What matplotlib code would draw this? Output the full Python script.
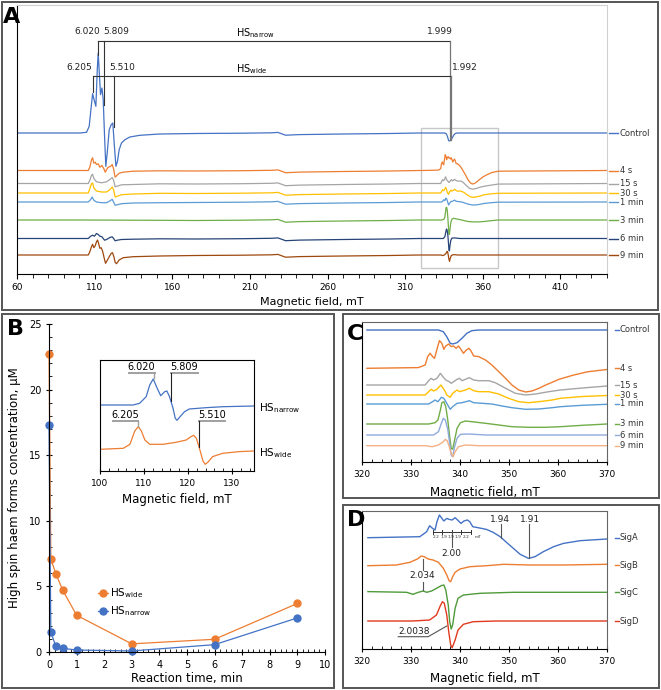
import numpy as np
import matplotlib.pyplot as plt
import matplotlib.transforms as mtransforms
from matplotlib.patches import Rectangle
from matplotlib.ticker import MultipleLocator

plt.rcParams['font.family'] = ['DejaVu Sans']
plt.rcParams['mathtext.default'] = 'regular'

# ---------------- panel B: kinetics ----------------
times = [0, 4 / 60, 0.25, 0.5, 1, 3, 6, 9]
hs_wide = [22.7, 7.1, 5.95, 4.7, 2.8, 0.62, 0.97, 3.7]
hs_narrow = [17.3, 1.5, 0.43, 0.28, 0.15, 0.08, 0.56, 2.6]

# inset: low-field spectra (mT, intensity in px)
ins_narrow_f = [100, 107.5, 109, 110.5, 111.3, 112.1, 113, 113.8, 114.7, 115.2, 115.8, 116.6, 117.1,
                117.5, 118.2, 119.2, 120.3, 124, 127.9, 135]
ins_narrow_i = [0, 0, 1.7, 8.3, 20, 26, 16.7, 9.3, 13.3, 14, 8.3, -3.3, -13.3,
                -15.3, -11.7, -6.7, -4, -2.7, -1.7, -1]
ins_wide_f = [100, 105.3, 106.8, 107.9, 108.7, 109.4, 110.2, 111.3, 114.3, 117.3, 119.6, 120.7, 121.3,
              121.9, 122.6, 123.4, 123.9, 124.5, 125.6, 127.9, 131.7, 135]
ins_wide_i = [0, 1, 5, 18.3, 22.7, 18.3, 9.3, 5, 5, 7, 9.3, 12.7, 14,
              11, 1, -11.7, -15, -13, -7.3, -4, -2.3, -1.7]

# ---------------- panel C: high-field spectra (mT, intensity in px) ----------------
trace_labels = ['Control', '4 s', '15 s', '30 s', '1 min', '3 min', '6 min', '9 min']

c_ctrl_f = [321, 335.6, 336.6, 337.3, 338.0, 338.5, 339.4, 340.4, 341.4, 342.4, 343.8, 370]
c_ctrl_i = [0, 0, -1.7, -6.7, -13.3, -14, -12.7, -8.3, -3.3, -0.7, 0, 0]
c_4s_f = [321, 331.5, 332.9, 333.4, 333.9, 334.4, 334.8, 335.3, 335.8, 336.3, 336.7, 337.1, 337.7,
          338.2, 338.7, 339.2, 339.7, 340.2, 340.7, 341.3, 341.8, 342.2, 342.8, 343.8, 345.2, 346.5,
          347.9, 349.3, 350.6, 352.0, 353.4, 354.7, 356.1, 357.5, 358.8, 360.2, 363, 366, 370]
c_4s_i = [0, 0.7, 3.3, 11.7, 15, 11.7, 10, 19, 27.7, 25, 19, 22.3, 24.3,
          21.7, 22.3, 20, 22.3, 19, 15, 18.3, 20, 17.7, 12.3, 11.7, 8.3, 3.3,
          -3.3, -10, -16.7, -21.7, -23.7, -22.7, -20, -16.7, -14, -11, -7, -3.5, -1.2]
c_15s_f = [321, 332.9, 333.6, 334.1, 334.6, 335.3, 336.0, 336.5, 337.1, 337.8, 338.2, 338.7, 339.4,
           339.9, 340.4, 341.1, 341.9, 342.8, 343.8, 345.9, 347.2, 349.3, 351.3, 353.4, 355.4, 358.1,
           360.5, 365, 370]
c_15s_i = [0, 0, 4.3, 6.7, 5, 6.7, 11.7, 8.3, 5, 3.3, 1.7, 3.3, 5.7,
           6.7, 4.3, 5.7, 7.3, 5, 4.3, 4.3, 2.3, -3.3, -8.3, -10, -9, -6.7,
           -5, -3, -1]
c_30s_f = [321, 332.9, 333.6, 334.1, 334.6, 335.3, 336.1, 336.8, 337.3, 338.0, 338.5, 339.4, 339.9,
           340.4, 341.1, 341.9, 342.8, 343.8, 345.9, 347.9, 349.9, 352.0, 354.0, 356.8, 358.8, 360.5,
           365, 370]
c_30s_i = [0, 0, 3.3, 5.7, 4, 5.7, 10, 5, 0, -2.3, 1.7, 5, 3.3,
           4, 5, 6.7, 4.3, 3.3, 3.3, 1, -3.3, -6.7, -7.7, -6.3, -5, -3.3,
           -1.5, -0.5]
c_1min_f = [321, 333.6, 334.4, 334.9, 335.5, 336.2, 336.7, 337.3, 338.0, 338.5, 339.4, 340.4, 341.2,
            341.9, 342.8, 344.5, 346.5, 348.6, 350.6, 353.4, 356.1, 358.8, 360.5, 365, 370]
c_1min_i = [0, 0, 2.3, 4, 2.3, 6.7, 5.7, 0.7, -5.3, -2.7, 0.7, 1.3, 2.3,
            3.3, 1.3, 0.7, 0, -2, -3.7, -5.3, -5, -3.7, -2.7, -1.3, -0.3]
c_3min_f = [321, 333.6, 334.9, 335.5, 336.0, 336.3, 336.7, 337.1, 337.5, 337.9, 338.2, 338.5, 338.9,
            339.4, 340.1, 341.1, 342.4, 345.2, 347.9, 350.6, 354.0, 357.5, 360.5, 365, 370]
c_3min_i = [0, 0, 1.3, 4, 14, 21.3, 22.3, 17.3, 4, -12.7, -24.3, -25.3, -16,
            -4.3, 1.3, 3, 2.3, 0.7, -1, -2.7, -3.3, -3.3, -2.7, -1.3, 0]
c_6min_f = [321, 334.6, 335.6, 336.2, 336.6, 337.0, 337.5, 337.9, 338.2, 338.5, 338.9, 339.4, 340.1,
            341.8, 345.2, 370]
c_6min_i = [0, 0, 3.3, 11.7, 16.7, 15, 5.7, -8.3, -20, -21.7, -11.7, -3.3, 0.7,
            1, 0, 0]
c_9min_f = [321, 333.0, 334.3, 335.6, 336.6, 337.0, 337.4, 337.8, 338.2, 338.6, 339.0, 339.7, 341.1,
            343.8, 370]
c_9min_i = [0, 0, -1, 0.7, 4, 6.3, 5, -1, -7.7, -11, -6, -1, 0.7,
            0, 0]

# ---------------- panel A: low-field part of the same spectra ----------------
a_ctrl_f = [100.5, 104.8, 106.5, 107.6, 108.7, 109.9, 110.8, 111.7, 112.3, 113.0, 113.8, 114.7, 115.5,
            116.4, 117.2, 118.1, 119.4, 120.7, 121.7, 122.6, 123.7, 124.7, 125.8, 127.3, 129.5, 132.7,
            139.1, 152.0]
a_ctrl_i = [0, 0.7, 6.7, 23.3, 39.3, 31.7, 26.7, 63.3, 80, 60, 38.3, 45, 34,
            -3.3, -33.3, -20, 3.3, 8.3, 10, -10, -33.3, -28.3, -16.7, -10, -6.7, -4,
            -2.3, -1]
a_4s_f = [100.5, 105.9, 106.9, 108.0, 108.7, 109.5, 110.4, 111.2, 112.3, 113.4, 114.7, 116.0, 116.8,
          117.7, 118.7, 120.2, 121.3, 122.2, 123.2, 124.3, 125.8, 128.4, 134.8, 152.0]
a_4s_i = [0, 0, 3.3, 10.7, 12.7, 7.3, 8.3, 6, 6.7, 3.3, 5, 1.7, -1.7,
          0.7, 3.3, 4, 6, 1.7, -6.7, -5, -2.7, -1.7, -0.7, -0.3]
a_15s_f = [100.5, 105.9, 106.9, 108.0, 108.7, 109.5, 111.2, 114.4, 117.7, 119.8, 121.3, 122.2, 123.2,
           124.5, 127.3, 134.8, 152.0]
a_15s_i = [0, 0, 3.3, 8.3, 9.3, 5, 1.7, 0.7, 1.7, 4, 6, 3.3, -3.3,
           -2.7, -1.3, -1, -0.3]
a_30s_f = [100.5, 105.9, 106.9, 108.0, 108.7, 109.5, 111.2, 114.4, 117.7, 119.8, 121.3, 122.2, 123.2,
           124.5, 127.3, 134.8, 152.0]
a_30s_i = [0, 0, 4.3, 9.3, 10, 5, 2, 1, 1, 3.3, 6, 3.3, -4,
           -3.3, -1.7, -1, -0.3]
a_1min_f = [100.5, 105.9, 107.4, 108.4, 109.5, 111.2, 114.4, 117.7, 119.8, 121.3, 122.2, 123.2, 124.7,
            127.3, 134.8, 152.0]
a_1min_i = [0, 0, 2.3, 5, 1.7, 0, -0.7, -0.7, 1, 2.7, 0, -3.3, -2.7,
            -1.7, -1, -0.7]
a_3min_f = [100.5, 152.0]
a_3min_i = [0, -0.3]
a_6min_f = [100.5, 105.9, 107.4, 108.7, 109.9, 111.2, 112.3, 113.4, 114.7, 116.4, 117.7, 119.8, 121.3,
            122.2, 123.2, 124.5, 127.3, 134.8, 152.0]
a_6min_i = [0, 0, 2.3, 3.3, 2.3, 5, 4, 2.3, 1.7, -1.7, -1, 1, 1.7,
            0, -2.3, -1.7, -1, -0.7, -0.3]
a_9min_f = [100.5, 105.9, 106.9, 108.0, 108.7, 109.5, 110.4, 111.2, 111.9, 112.5, 113.4, 114.2, 115.1,
            116.2, 117.0, 117.9, 119.4, 120.7, 121.5, 122.4, 123.2, 124.1, 125.8, 128.4, 134.8, 152.0]
a_9min_i = [0, 0, 3.3, 8.3, 10.7, 7.3, 9.3, 13.3, 15, 11.7, 6.7, 7.3, 4,
            -3.3, -8.3, -6, -1.7, 1.7, 2.3, -1.7, -7.3, -8.7, -5, -2.7, -1.7, -1]
# small baseline artefact between the two regions
mid_f = [175, 205, 224, 228, 233, 242, 270, 300, 319]
mid_i = [-0.5, -0.2, 0.2, 0.6, -2.2, -1.6, -1.0, -0.5, 0]

# ---------------- panel D: signal components ----------------
sig_labels = ['SigA', 'SigB', 'SigC', 'SigD']
d_a_f = [321.2, 331.8, 333.2, 333.8, 334.4, 334.9, 335.3, 335.8, 336.2, 336.7, 337.3, 337.8, 338.4,
         339.0, 339.5, 340.2, 340.8, 341.5, 342.0, 342.6, 343.7, 345.4, 346.8, 348.2, 349.5, 350.9,
         352.3, 354.0, 355.3, 357.0, 359.1, 361.1, 364.5, 370]
d_a_i = [0, 1, 6, 12, 9.3, 7.7, 16, 22.7, 20, 16.7, 19.3, 18.3, 17.7,
         20, 17.7, 14.3, 16.7, 17.7, 16, 11, 10, 8.3, 5.3, 1, -4.7, -10.7,
         -16.7, -20.7, -19, -14, -9, -5.7, -3, -1.3]
d_b_f = [321.2, 327.0, 329.8, 331.3, 332.1, 332.7, 333.5, 334.5, 335.6, 336.6, 337.3, 337.8, 338.1,
         338.5, 339.0, 340.0, 342.0, 345.4, 348.9, 354.3, 361.1, 370]
d_b_i = [-0.7, 0, 2.7, 6, 9, 8.3, 6, 5, 2.7, -3.3, -10, -16, -16.7,
         -11.7, -7.3, -4, -1.7, -0.7, 0.7, 0, 0, 0.7]
d_c_f = [321.2, 329.1, 330.4, 331.5, 332.5, 333.2, 334.2, 335.2, 336.2, 336.7, 337.1, 337.6, 337.9,
         338.2, 338.5, 339.0, 339.6, 340.7, 344.1, 350.9, 370]
d_c_i = [0.7, 0, -2, 0, 1.3, 0, 1.3, 4, 6.7, 7.3, 2.3, -12.7, -29.3,
         -36.7, -32.7, -16, -6, -2.7, -1, 0, 0]
d_d_f = [321.2, 330.4, 333.8, 335.2, 335.9, 336.4, 336.8, 337.3, 337.7, 338.1, 338.4, 339.0, 339.6,
         340.7, 342.7, 347.5, 370]
d_d_i = [0, 0, 1, 6, 14.3, 19.3, 17.7, 6, -10.7, -24, -26.7, -19, -9,
         -3.3, -0.7, 0, 0]
# hyperfine spacings written under SigA (mT)
spacing_pos = [335.1, 336.7, 338.1, 339.6, 341.3]
spacing_txt = ['2.2', '1.9', '1.9', '1.9', '2.2']

# ---------------- styles / stacking ----------------
a_colors = ['#4472C4', '#ED7D31', '#A5A5A5', '#FFC000', '#5B9BD5', '#70AD47', '#264478', '#9E480E']
c_colors = ['#4472C4', '#ED7D31', '#A5A5A5', '#FFC000', '#5B9BD5', '#70AD47', '#8FAADC', '#F4B183']
d_colors = ['#4472C4', '#ED7D31', '#4F9A3A', '#E03A1E']
a_offsets = [141, 103.5, 90.5, 81, 72, 54, 35.5, 19]
c_offsets = [132, 93.7, 77, 67, 58, 38, 27, 16.3]
d_offsets = [111.3, 84, 56.7, 28]
a_gain = 0.57  # high-field part is drawn smaller in panel A than in C

low_parts = [(a_ctrl_f, a_ctrl_i), (a_4s_f, a_4s_i), (a_15s_f, a_15s_i), (a_30s_f, a_30s_i),
             (a_1min_f, a_1min_i), (a_3min_f, a_3min_i), (a_6min_f, a_6min_i), (a_9min_f, a_9min_i)]
high_parts = [(c_ctrl_f, c_ctrl_i), (c_4s_f, c_4s_i), (c_15s_f, c_15s_i), (c_30s_f, c_30s_i),
              (c_1min_f, c_1min_i), (c_3min_f, c_3min_i), (c_6min_f, c_6min_i), (c_9min_f, c_9min_i)]
sig_parts = [(d_a_f, d_a_i), (d_b_f, d_b_i), (d_c_f, d_c_i), (d_d_f, d_d_i)]

W, H = 661, 690
fig = plt.figure(figsize=(W / 100, H / 100), dpi=100)


def box(x0, y0, x1, y1):
    # pixel box measured from the top-left -> figure rect
    return [x0 / W, 1 - y1 / H, (x1 - x0) / W, (y1 - y0) / H]


def frame(x0, y0, x1, y1):
    r = box(x0, y0, x1, y1)
    fig.add_artist(Rectangle((r[0], r[1]), r[2], r[3], transform=fig.transFigure,
                             fill=False, ec='#555555', lw=1.4))


def side_labels(ax, offsets, labels, colors, x0):
    tr = mtransforms.blended_transform_factory(ax.transAxes, ax.transData)
    for off, lab, col in zip(offsets, labels, colors):
        ax.plot([x0, x0 + 0.016], [off, off], color=col, lw=1, transform=tr, clip_on=False)
        ax.text(x0 + 0.019, off, lab, transform=tr, fontsize=6, va='center', color='#333333')


def field_axis(ax, x_label_y):
    ax.set_xlim(320, 370)
    ax.set_xticks(range(320, 371, 10))
    ax.xaxis.set_minor_locator(MultipleLocator(2))
    ax.set_yticks([])
    ax.tick_params(axis='x', which='major', direction='inout', length=5, labelsize=6.5, pad=3)
    ax.tick_params(axis='x', which='minor', direction='in', length=2.5)
    for s in ['top', 'right']:
        ax.spines[s].set_color('#666666')
    ax.set_xlabel('Magnetic field, mT', fontsize=8.5)
    ax.xaxis.set_label_coords(0.5, x_label_y)


frame(2, 2, 658, 310)
frame(2, 314, 334, 688)
frame(343, 314, 659, 498)
frame(343, 505, 659, 688)

# ---------------- A ----------------
ax_a = fig.add_axes(box(17, 5, 607, 274))
for k in range(len(trace_labels)):
    lf, li = low_parts[k]
    hf, hi = high_parts[k]
    f = np.concatenate([[60], lf, mid_f, hf, [440]])
    y = np.concatenate([[0], li, mid_i, np.array(hi) * a_gain, [0]])
    ax_a.plot(f, y + a_offsets[k], color=a_colors[k], lw=0.9)
ax_a.set_xlim(60, 440)
ax_a.set_ylim(0, 269)
ax_a.set_yticks([])
ax_a.set_xticks(range(60, 411, 50))
ax_a.xaxis.set_minor_locator(MultipleLocator(10))
ax_a.tick_params(axis='x', which='major', direction='out', length=3.5, labelsize=6.5, pad=3)
ax_a.tick_params(axis='x', which='minor', direction='out', length=3)
ax_a.spines['top'].set_color('#D0D0D0')
ax_a.spines['right'].set_color('#D0D0D0')
ax_a.set_xlabel('Magnetic field, mT', fontsize=8)
ax_a.xaxis.set_label_coords(0.5, -0.085)
ax_a.add_patch(Rectangle((320, 6), 50, 140, fill=False, ec='#C8C8C8', lw=1))
side_labels(ax_a, a_offsets, trace_labels, a_colors, 1.003)

lc = '#333333'
ax_a.plot([112.1, 338.6], [233.3, 233.3], color=lc, lw=0.8)
ax_a.plot([112.1, 112.1], [233.3, 219], color=lc, lw=0.8)
ax_a.plot([116.2, 116.2], [233.3, 169], color=lc, lw=0.8)
ax_a.plot([338.6, 338.6], [233.3, 134], color='#777777', lw=0.9)
ax_a.plot([108.7, 339.4], [198, 198], color=lc, lw=0.8)
ax_a.plot([108.7, 108.7], [198, 182], color=lc, lw=0.8)
ax_a.plot([122.4, 122.4], [198, 147], color=lc, lw=0.8)
ax_a.plot([339.4, 339.4], [198, 134], color='#777777', lw=0.9)
akw = dict(fontsize=6.5, va='center', color='#222222')
ax_a.text(113.3, 242.3, '6.020', ha='right', **akw)
ax_a.text(115.3, 242.3, '5.809', ha='left', **akw)
ax_a.text(108.7, 206.3, '6.205', ha='right', **akw)
ax_a.text(119.4, 206.3, '5.510', ha='left', **akw)
ax_a.text(340.6, 242.3, '1.999', ha='right', **akw)
ax_a.text(340.3, 206.3, '1.992', ha='left', **akw)
ax_a.text(201, 241, r'HS$_{narrow}$', ha='left', fontsize=7, va='center')
ax_a.text(201, 205, r'HS$_{wide}$', ha='left', fontsize=7, va='center')

# ---------------- B ----------------
ax_b = fig.add_axes(box(49, 324, 325, 652))
ax_b.plot(times, hs_wide, '-o', color='#ED7D31', ms=5, lw=0.9, clip_on=False)
ax_b.plot(times, hs_narrow, '-o', color='#4472C4', ms=5, lw=0.9, clip_on=False)
ax_b.set_xlim(0, 10)
ax_b.set_ylim(0, 25)
ax_b.set_xticks(range(0, 11))
ax_b.set_yticks(range(0, 26, 5))
ax_b.xaxis.set_minor_locator(MultipleLocator(0.2))
ax_b.yaxis.set_minor_locator(MultipleLocator(1))
ax_b.tick_params(which='major', direction='inout', length=5, labelsize=7, pad=3)
ax_b.tick_params(which='minor', direction='in', length=2.5)
ax_b.spines['top'].set_visible(False)
ax_b.spines['right'].set_visible(False)
ax_b.set_xlabel('Reaction time, min', fontsize=8.5)
ax_b.xaxis.set_label_coords(0.5, -0.06)
ax_b.set_ylabel('High spin haem forms concentration, \u00b5M', fontsize=8.5)
ax_b.yaxis.set_label_coords(-0.1, 0.5)
for yy, col, lab in [(0.18, '#ED7D31', r'HS$_{wide}$'), (0.125, '#4472C4', r'HS$_{narrow}$')]:
    ax_b.plot([0.178, 0.214], [yy, yy], color=col, lw=0.9, transform=ax_b.transAxes)
    ax_b.plot([0.196], [yy], 'o', color=col, ms=5, transform=ax_b.transAxes)
    ax_b.text(0.222, yy, lab, transform=ax_b.transAxes, fontsize=7.5, va='center')

ax_in = fig.add_axes(box(100, 360, 254, 471))
ax_in.plot(ins_narrow_f, np.array(ins_narrow_i) + 66, color='#4472C4', lw=0.9)
ax_in.plot(ins_wide_f, np.array(ins_wide_i) + 21.7, color='#ED7D31', lw=0.9)
ax_in.set_xlim(100, 135)
ax_in.set_ylim(0, 111)
ax_in.set_yticks([])
ax_in.set_xticks([100, 110, 120, 130])
ax_in.xaxis.set_minor_locator(MultipleLocator(2))
ax_in.tick_params(axis='x', which='major', direction='inout', length=5, labelsize=6.5, pad=3)
ax_in.tick_params(axis='x', which='minor', direction='in', length=2.5)
ax_in.set_xlabel('Magnetic field, mT', fontsize=8.5)
ax_in.xaxis.set_label_coords(0.5, -0.2)
gray = '#A0A0A0'
ikw = dict(fontsize=7, ha='center', va='center')
ax_in.plot([106.6, 112.4], [97.7, 97.7], color=gray, lw=1.4)
ax_in.plot([112.2, 112.2], [97.7, 93], color=gray, lw=1)
ax_in.text(109.4, 103.5, '6.020', **ikw)
ax_in.plot([116.2, 122.2], [97.7, 97.7], color=gray, lw=1.4)
ax_in.plot([116.2, 116.2], [97.7, 70], color='#222222', lw=0.8)
ax_in.text(119.2, 103.5, '5.809', **ikw)
ax_in.plot([102.9, 108.7], [50.3, 50.3], color=gray, lw=1.4)
ax_in.plot([108.7, 108.7], [50.3, 45], color=gray, lw=1)
ax_in.text(105.8, 56, '6.205', **ikw)
ax_in.plot([122.6, 128.3], [50.3, 50.3], color=gray, lw=1.4)
ax_in.plot([122.6, 122.6], [50.3, 24.3], color='#222222', lw=0.8)
ax_in.text(125.4, 56, '5.510', **ikw)
tr_in = mtransforms.blended_transform_factory(ax_in.transAxes, ax_in.transData)
ax_in.text(1.03, 63, r'HS$_{narrow}$', transform=tr_in, fontsize=7.5, va='center')
ax_in.text(1.03, 18, r'HS$_{wide}$', transform=tr_in, fontsize=7.5, va='center')

# ---------------- C ----------------
ax_c = fig.add_axes(box(362, 322, 607, 462))
for k in range(len(trace_labels)):
    f, i = high_parts[k]
    ax_c.plot(f, np.array(i) + c_offsets[k], color=c_colors[k], lw=1)
ax_c.set_ylim(0, 140)
field_axis(ax_c, -0.17)
side_labels(ax_c, c_offsets, trace_labels, c_colors, 1.033)

# ---------------- D ----------------
ax_d = fig.add_axes(box(362, 511, 607, 649))
for k in range(len(sig_labels)):
    f, i = sig_parts[k]
    ax_d.plot(f, np.array(i) + d_offsets[k], color=d_colors[k], lw=1)
ax_d.set_ylim(0, 138)
field_axis(ax_d, -0.17)
side_labels(ax_d, d_offsets, sig_labels, d_colors, 1.033)

dk = dict(fontsize=6.5, ha='center', va='center', color='#222222')
ax_d.plot([334.4, 342.2], [117, 117], color='#333333', lw=0.7)
for xt in [334.4, 336.4, 338.3, 340.2, 342.2]:
    ax_d.plot([xt, xt], [115, 119.5], color='#333333', lw=0.7)
for xt, t in zip(spacing_pos, spacing_txt):
    ax_d.text(xt, 111.5, t, fontsize=3.1, ha='center', va='center', color='#333333')
ax_d.text(343.6, 111.5, 'mT', fontsize=3.1, ha='center', va='center', color='#333333')
ax_d.plot([338.3, 338.3], [117, 102.3], color='#555555', lw=0.8)
ax_d.text(338.3, 96, '2.00', **dk)
ax_d.plot([348.3, 348.3], [125, 111], color='#555555', lw=0.8)
ax_d.text(348.2, 130, '1.94', **dk)
ax_d.plot([354.0, 354.0], [125, 91], color='#555555', lw=0.8)
ax_d.text(354.2, 130, '1.91', **dk)
ax_d.plot([332.5, 332.5], [90, 79], color='#555555', lw=0.8)
ax_d.plot([332.5, 332.5], [67.3, 59], color='#555555', lw=0.8)
ax_d.text(332.3, 73.3, '2.034', **dk)
ax_d.text(327.4, 18, '2.0038', fontsize=6.5, ha='left', va='center', color='#222222')
ax_d.plot([327.4, 333.5, 337.3], [12.3, 12.3, 23], color='#555555', lw=0.8)

# panel letters
for lab, x, y in [('A', 3, 7), ('B', 7, 319), ('C', 347, 324), ('D', 347, 510)]:
    fig.text(x / W, 1 - y / H, lab, fontsize=16, fontweight='bold', va='top', ha='left')

fig.savefig('out.png', dpi=100)
